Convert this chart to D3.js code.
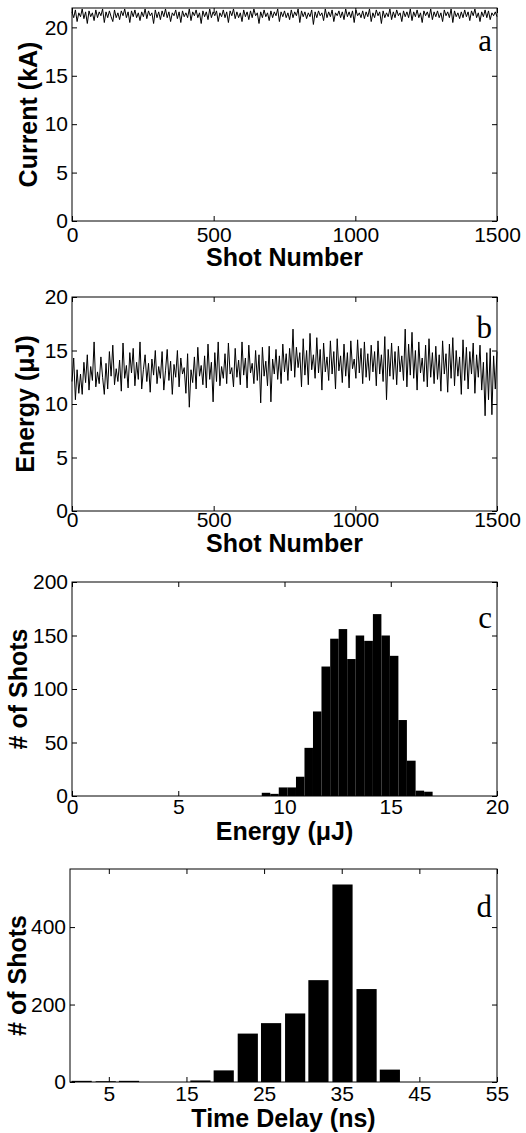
<!DOCTYPE html>
<html>
<head>
<meta charset="utf-8">
<script src="https://cdn.jsdelivr.net/npm/d3@7"></script>
<style>
  body { margin: 0; background: #fff; }
  .tick text { font-family: "Liberation Sans", Arial, sans-serif; font-size: 21px; fill: #000; }
  .lab { font-family: "Liberation Sans", Arial, sans-serif; font-size: 25px; font-weight: bold; fill: #000; }
  .let { font-family: "Liberation Serif", "Times New Roman", serif; font-size: 31px; fill: #000; }
</style>
</head>
<body>
<div id="fig"></div>
<script>
// panel a: discharge current (kA), one value every 6 shots
let currentKA = [
  21.6, 21.0, 21.8, 20.6, 21.5, 21.1, 21.9, 20.9, 21.6, 20.4,
  21.7, 21.1, 21.5, 20.7, 21.8, 21.0, 21.6, 21.2, 21.9, 20.5,
  21.6, 21.0, 21.7, 21.1, 20.6, 21.8, 21.0, 21.5, 20.8, 21.7,
  21.2, 21.9, 21.0, 21.6, 20.5, 21.7, 21.1, 21.8, 21.0, 21.5,
  20.7, 21.6, 21.1, 21.9, 20.9, 21.7, 21.2, 21.5, 20.4, 21.8,
  21.0, 21.6, 20.8, 21.7, 21.1, 21.9, 21.0, 21.6, 20.6, 21.5,
  21.2, 21.8, 20.9, 21.6, 20.5, 21.7, 21.1, 21.5, 21.0, 21.9,
  20.7, 21.6, 21.2, 21.8, 21.0, 21.5, 20.4, 21.7, 21.1, 21.6,
  20.8, 21.9, 21.0, 21.6, 21.2, 21.7, 20.6, 21.5, 21.1, 21.8,
  21.0, 21.6, 20.5, 21.7, 21.2, 21.9, 20.9, 21.6, 21.0, 21.5,
  20.6, 21.8, 21.1, 21.6, 20.8, 21.7, 21.0, 21.9, 21.2, 21.5,
  20.4, 21.6, 21.0, 21.8, 21.1, 21.5, 20.7, 21.7, 21.0, 21.6,
  21.2, 21.9, 20.6, 21.6, 21.1, 21.7, 21.0, 21.5, 20.8, 21.8,
  21.0, 21.6, 21.2, 21.9, 20.5, 21.7, 21.1, 21.6, 20.9, 21.5,
  21.1, 21.8, 20.3, 21.6, 21.0, 21.7, 21.2, 21.5, 20.7, 21.9,
  21.0, 21.6, 21.1, 21.8, 20.6, 21.5, 21.2, 21.7, 21.0, 21.6,
  20.8, 21.9, 21.1, 21.6, 21.0, 21.7, 20.5, 21.8, 21.2, 21.5,
  21.0, 21.7, 20.9, 21.6, 21.1, 21.9, 20.6, 21.5, 21.0, 21.8,
  21.2, 21.6, 20.4, 21.7, 21.0, 21.5, 21.1, 21.9, 20.8, 21.6,
  21.0, 21.8, 21.2, 21.5, 20.6, 21.7, 21.1, 21.6, 21.0, 21.9,
  20.7, 21.6, 21.1, 21.8, 21.0, 21.5, 20.5, 21.7, 21.2, 21.6,
  21.0, 21.9, 20.8, 21.6, 21.1, 21.7, 21.0, 21.5, 20.6, 21.8,
  21.2, 21.6, 21.0, 21.9, 20.5, 21.7, 21.1, 21.5, 20.9, 21.6,
  21.0, 21.8, 21.1, 21.6, 20.7, 21.7, 21.2, 21.9, 21.0, 21.5,
  20.6, 21.6, 21.1, 21.8, 21.0, 21.7, 20.8, 21.5, 21.2, 21.6, 21.1
];

// panel b: pulse energy (uJ), one value every 6 shots
let energyUJ = [
  12.1, 14.3, 10.4, 13.2, 11.0, 12.8, 10.9, 13.9, 12.0, 14.6,
  11.3, 13.5, 12.2, 15.8, 11.6, 13.0, 11.9, 14.4, 12.5, 10.9,
  13.8, 11.4, 14.9, 12.6, 15.5, 11.8, 13.3, 12.1, 14.1, 11.2,
  15.7, 12.4, 13.6, 11.5, 14.8, 12.9, 15.2, 11.7, 13.9, 12.3,
  15.8, 11.4, 13.2, 14.6, 12.1, 13.8, 11.1, 14.2, 12.7, 15.0,
  11.9, 13.5, 12.4, 14.9, 11.3, 13.1, 15.1, 12.2, 14.0, 10.9,
  13.7, 12.5, 15.0, 11.6, 14.3, 12.8, 13.4, 11.0, 14.7, 9.7,
  13.2, 12.0, 14.4, 11.4, 15.3, 12.6, 13.6, 11.8, 14.5, 11.5,
  15.6, 12.3, 13.9, 10.2, 14.8, 12.1, 15.8, 11.7, 13.5, 12.4,
  14.7, 11.9, 15.7, 12.8, 13.4, 11.6, 15.2, 12.5, 14.1, 11.8,
  15.8, 12.7, 14.3, 11.5, 15.5, 12.9, 13.8, 11.9, 15.0, 12.2,
  14.6, 10.1, 15.3, 12.6, 14.0, 11.7, 15.4, 10.2, 14.2, 12.8,
  15.1, 12.3, 14.5, 11.9, 15.6, 13.0, 14.7, 12.2, 15.2, 13.1,
  17.0, 12.5, 15.3, 13.4, 14.8, 11.6, 16.1, 12.7, 15.0, 11.8,
  16.6, 13.2, 14.6, 12.4, 16.2, 12.9, 15.1, 11.3, 15.7, 13.0,
  14.4, 12.2, 15.9, 12.8, 14.9, 11.4, 16.1, 13.1, 14.5, 12.0,
  15.6, 12.6, 14.8, 11.5, 15.9, 13.3, 14.2, 12.4, 16.0, 12.9,
  15.2, 11.9, 15.8, 12.5, 14.7, 12.2, 15.5, 13.0, 14.9, 11.7,
  15.9, 12.8, 14.6, 12.1, 16.3, 10.4, 15.1, 12.6, 15.7, 12.3,
  14.9, 11.8, 15.4, 13.0, 14.5, 12.2, 17.0, 11.6, 15.6, 12.7,
  16.7, 12.4, 15.0, 11.3, 15.8, 12.9, 14.3, 12.1, 15.5, 11.6,
  16.1, 12.5, 14.8, 11.9, 15.4, 12.3, 14.6, 11.2, 15.9, 12.8,
  14.7, 11.1, 15.6, 12.4, 16.2, 11.7, 15.0, 12.6, 14.4, 10.9,
  16.0, 12.2, 15.3, 11.4, 14.9, 12.8, 15.7, 11.0, 14.6, 12.5,
  15.5, 11.3, 13.9, 8.9, 14.8, 10.4, 15.2, 9.0, 14.5, 11.4, 14.9
];
let shotStep = 6;

// panel c: energy histogram (bin edges in uJ, counts)
let energyEdges = [8.93, 9.33, 9.73, 10.14, 10.54, 10.94, 11.34, 11.74, 12.15, 12.55, 12.95,
                   13.35, 13.75, 14.16, 14.56, 14.96, 15.36, 15.76, 16.17, 16.57, 16.97];
let energyCounts = [3, 2, 8, 8, 18, 45, 79, 121, 147, 156, 128, 150, 145, 170, 150, 131, 71, 33, 5, 4];

// panel d: time delay histogram (bin centres in ns, counts)
let delayCenters = [1.5, 4.6, 7.6, 10.7, 13.7, 16.8, 19.8, 22.9, 25.9, 29.0, 32.0, 35.1, 38.2, 41.2];
let delayCounts = [3, 2, 3, 0, 0, 4, 30, 125, 152, 177, 263, 510, 240, 32];
let delayBarWidth = 2.6;

let shotTicks = [0, 500, 1000, 1500];
let currentTicks = [0, 5, 10, 15, 20];
let energyTicks = [0, 5, 10, 15, 20];
let countTicksC = [0, 50, 100, 150, 200];
let delayTicks = [5, 15, 25, 35, 45, 55];
let countTicksD = [0, 200, 400];

let svg = d3.select("#fig").append("svg")
    .attr("width", 526).attr("height", 1133);

let fmt = d3.format("d");

function panel(opt) {
    let x = d3.scaleLinear().domain(opt.xDom).range([opt.left, 497]);
    let y = d3.scaleLinear().domain(opt.yDom).range([opt.bottom, opt.top]);
    let g = svg.append("g");

    opt.draw(g, x, y);

    g.append("rect")
        .attr("x", opt.left).attr("y", opt.top)
        .attr("width", 497 - opt.left).attr("height", opt.bottom - opt.top)
        .attr("fill", "none").attr("stroke", "#000").attr("stroke-width", 1);

    // ticks point inward on all four sides
    g.append("g").attr("transform", "translate(0," + opt.bottom + ")")
        .call(d3.axisBottom(x).tickValues(opt.xTicks).tickFormat(fmt).tickSizeInner(-5).tickSizeOuter(0).tickPadding(opt.xPad))
        .call(a => a.select(".domain").remove());
    g.append("g").attr("transform", "translate(0," + opt.top + ")")
        .call(d3.axisTop(x).tickValues(opt.xTicks).tickSizeInner(-5).tickSizeOuter(0).tickFormat(""))
        .call(a => a.select(".domain").remove());
    g.append("g").attr("transform", "translate(" + opt.left + ",0)")
        .call(d3.axisLeft(y).tickValues(opt.yTicks).tickFormat(fmt).tickSizeInner(-5).tickSizeOuter(0).tickPadding(4))
        .call(a => a.select(".domain").remove());
    g.append("g").attr("transform", "translate(497,0)")
        .call(d3.axisRight(y).tickValues(opt.yTicks).tickSizeInner(-5).tickSizeOuter(0).tickFormat(""))
        .call(a => a.select(".domain").remove());

    g.append("text").attr("class", "lab")
        .attr("text-anchor", "middle")
        .attr("x", (opt.left + 497) / 2)
        .attr("y", opt.bottom + opt.xLabOff)
        .text(opt.xLabel);
    g.append("text").attr("class", "lab")
        .attr("text-anchor", "middle")
        .attr("transform", "translate(" + opt.yLabX + "," + (opt.top + opt.bottom) / 2 + ") rotate(-90)")
        .text(opt.yLabel);
    g.append("text").attr("class", "let")
        .attr("text-anchor", "end")
        .attr("x", 492).attr("y", opt.top + opt.letOff)
        .text(opt.letter);
}

function traceDraw(values) {
    return function(g, x, y) {
        g.append("path")
            .datum(values)
            .attr("fill", "none")
            .attr("stroke", "#000")
            .attr("stroke-width", 1)
            .attr("d", d3.line()
                .x((d, i) => x(i * shotStep))
                .y(d => y(d)));
    };
}

panel({
    left: 72, top: 8, bottom: 221,
    xDom: [0, 1500], yDom: [0, 22],
    xTicks: shotTicks, yTicks: currentTicks, xPad: 6,
    xLabel: "Shot Number", xLabOff: 45,
    yLabel: "Current (kA)", yLabX: 37,
    letter: "a", letOff: 43,
    draw: traceDraw(currentKA)
});

panel({
    left: 72, top: 297, bottom: 511,
    xDom: [0, 1500], yDom: [0, 20],
    xTicks: shotTicks, yTicks: energyTicks, xPad: 1,
    xLabel: "Shot Number", xLabOff: 41,
    yLabel: "Energy (\u03bcJ)", yLabX: 34,
    letter: "b", letOff: 41,
    draw: traceDraw(energyUJ)
});

panel({
    left: 72, top: 582, bottom: 796,
    xDom: [0, 20], yDom: [0, 200],
    xTicks: energyTicks, yTicks: countTicksC, xPad: 3,
    xLabel: "Energy (\u03bcJ)", xLabOff: 44,
    yLabel: "# of Shots", yLabX: 27,
    letter: "c", letOff: 46,
    draw: function(g, x, y) {
        g.selectAll("rect.bar")
            .data(energyCounts)
            .join("rect")
            .attr("class", "bar")
            .attr("x", (d, i) => x(energyEdges[i]))
            .attr("width", (d, i) => x(energyEdges[i + 1]) - x(energyEdges[i]))
            .attr("y", d => y(d))
            .attr("height", d => y(0) - y(d))
            .attr("fill", "#000");
    }
});

panel({
    left: 70, top: 869, bottom: 1082,
    xDom: [0, 55], yDom: [0, 550],
    xTicks: delayTicks, yTicks: countTicksD, xPad: 4,
    xLabel: "Time Delay (ns)", xLabOff: 45,
    yLabel: "# of Shots", yLabX: 26,
    letter: "d", letOff: 48,
    draw: function(g, x, y) {
        g.selectAll("rect.bar")
            .data(delayCounts)
            .join("rect")
            .attr("class", "bar")
            .attr("x", (d, i) => x(delayCenters[i] - delayBarWidth / 2))
            .attr("width", x(delayBarWidth) - x(0))
            .attr("y", d => y(d))
            .attr("height", d => y(0) - y(d))
            .attr("fill", "#000");
    }
});
</script>
</body>
</html>
